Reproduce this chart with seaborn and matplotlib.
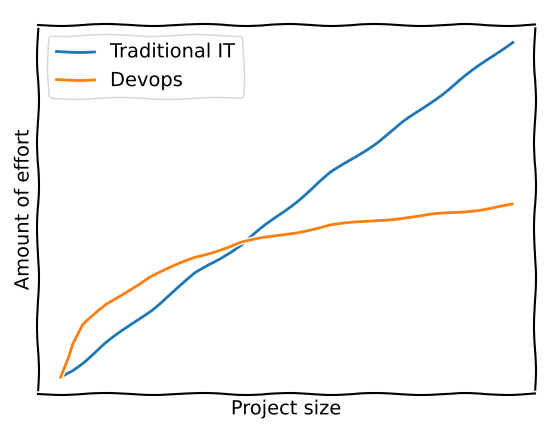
import pandas as pd
import seaborn as sns
import matplotlib.pyplot as plt

# values
project_size = [0, 0.25, 0.5, 1, 1.5, 2, 3, 4, 5, 6, 7, 8, 9, 10]
traditional_it = [0, 0.2, 0.45, 1.0, 1.5, 2.0, 3.1, 3.95, 5.0, 6.1, 7.0, 8.0, 9.0, 10.0]
devops = [0, 0.98, 1.55, 2.15, 2.6, 3.0, 3.58, 4.01, 4.27, 4.52, 4.68, 4.8, 4.95, 5.13]

df = pd.DataFrame({'size': project_size, 'Traditional IT': traditional_it, 'Devops': devops})

with plt.xkcd():
    plt.rcParams['font.family'] = ['DejaVu Sans']
    fig = plt.figure(figsize=(5.6, 4.29), dpi=100)
    ax = fig.add_axes([0.068, 0.082, 0.887, 0.86])
    sns.lineplot(data=df, x='size', y='Traditional IT', color='C0', label='Traditional IT', ax=ax)
    sns.lineplot(data=df, x='size', y='Devops', color='C1', label='Devops', ax=ax)
    ax.set_xticks([])
    ax.set_yticks([])
    ax.set_xlabel('Project size', fontsize=14)
    ax.set_ylabel('Amount of effort', fontsize=14)
    ax.legend(loc='upper left', fontsize=14)
    fig.savefig('out.png', dpi=100)
